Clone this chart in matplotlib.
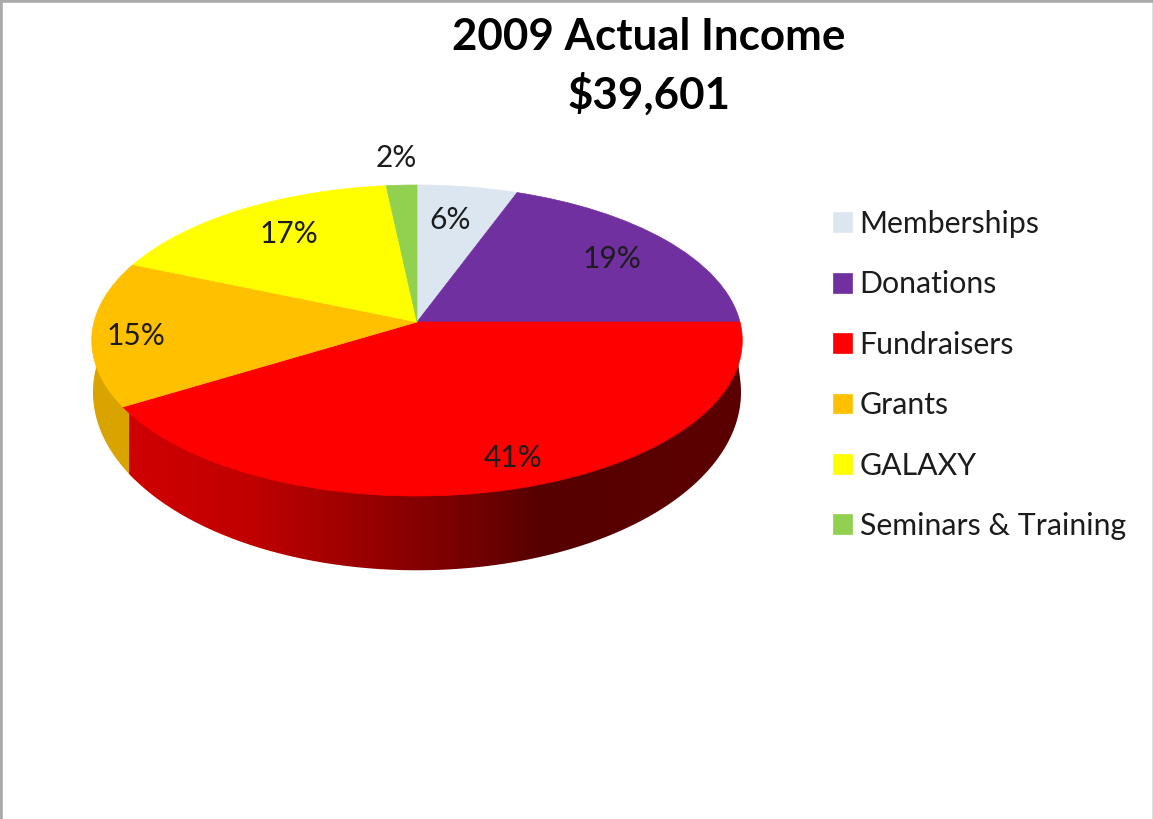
"""2009 income pie, drawn with a tilted top face and a side wall."""
import matplotlib
matplotlib.use("Agg")
import matplotlib.pyplot as plt
import numpy as np
from matplotlib.colors import LinearSegmentedColormap
from matplotlib.transforms import Transform

plt.rcParams["font.family"] = ["Lato", "DejaVu Sans"]

CATEGORIES = ["Memberships", "Donations", "Fundraisers", "Grants", "GALAXY",
              "Seminars & Training"]
# slice sizes, the printed labels are rounded
SHARES = [5.6, 19.4, 41.3, 15.1, 16.9, 1.7]
PERCENT_LABELS = ["6%", "19%", "41%", "15%", "17%", "2%"]
COLORS = ["#dce6f1", "#7030a0", "#ff0000", "#ffc000", "#ffff00", "#92d050"]
TITLE = "2009 Actual Income\n$39,601"

INK = "#1c1c1c"
# label centres in figure pixels
LABEL_XY = [(450, 220), (612, 259), (513, 458), (136, 336), (289, 234), (396, 158)]
GRANTS_WALL = "#d9a300"
RED_WALL_X = [125, 250, 360, 480, 540, 742]
RED_WALL = ["#d00000", "#c00000", "#9a0000", "#700000", "#560000", "#5c0000"]


class Tilt(Transform):
    """Unit circle -> pixel coords, nearer edge drawn larger."""
    input_dims = output_dims = 2

    def __init__(self, cx, cy, a, b, k=0.119):
        super().__init__()
        self.cx, self.cy, self.a, self.b, self.k = cx, cy, a, b, k

    def transform_non_affine(self, xy):
        xy = np.asarray(xy, dtype=float)
        w = 1 + self.k * xy[:, 1]
        return np.column_stack([self.cx + self.a * xy[:, 0] / w,
                                self.cy - self.b * xy[:, 1] / w])


def rim(tilt, start, end):
    t = np.radians(np.linspace(start, end, 80))
    return tilt.transform_non_affine(np.column_stack([np.sin(t), np.cos(t)]))


def main():
    fig = plt.figure(figsize=(11.53, 8.19), dpi=100)
    ax = fig.add_axes([0, 0, 1, 1])

    wedges, _ = ax.pie(SHARES, colors=COLORS, startangle=90, counterclock=False,
                       wedgeprops={"linewidth": 0.5})
    top = Tilt(417, 322, 323, 153.3)
    inner = Tilt(417, 322, 316, 148)  # wall runs a little under the top face
    bottom = Tilt(417, 378, 323, 176.9, k=0.08)
    for w in wedges:
        w.set_transform(top + ax.transData)
        w.set_edgecolor(w.get_facecolor())
        w.set_zorder(3)

    # side wall, only the front slices show
    edges = np.cumsum([0] + SHARES) * 3.6
    red = 2
    grants = 3
    # grants starts a bit early so no white seam shows next to the red wall
    poly = np.vstack([rim(inner, edges[grants] - 2, edges[grants + 1]),
                      rim(bottom, edges[grants + 1], edges[grants] - 2)])
    ax.fill(poly[:, 0], poly[:, 1], color=GRANTS_WALL, lw=0, zorder=1)

    poly = np.vstack([rim(inner, edges[red], edges[red + 1]),
                      rim(bottom, edges[red + 1], edges[red])])
    patch = ax.fill(poly[:, 0], poly[:, 1], color="none", lw=0, zorder=2)[0]
    span = RED_WALL_X[-1] - RED_WALL_X[0]
    stops = [(x - RED_WALL_X[0]) / span for x in RED_WALL_X]
    cmap = LinearSegmentedColormap.from_list("wall", list(zip(stops, RED_WALL)))
    img = ax.imshow(np.linspace(0, 1, 512)[None, :], cmap=cmap, aspect="auto",
                    extent=(RED_WALL_X[0], RED_WALL_X[-1], 600, 300), zorder=2)
    img.set_clip_path(patch)

    ax.set_aspect("auto")
    ax.set_xlim(0, 1153)
    ax.set_ylim(819, 0)
    ax.set_xticks([])
    ax.set_yticks([])
    ax.set_frame_on(True)
    for side, lw, color in [("left", 4, "#aaaaaa"), ("top", 4, "#aaaaaa"),
                            ("right", 2, "#dddddd"), ("bottom", 0, "white")]:
        ax.spines[side].set_linewidth(lw)
        ax.spines[side].set_color(color)

    for label, (x, y) in zip(PERCENT_LABELS, LABEL_XY):
        ax.text(x, y, label, fontsize=21.5, color=INK, ha="center",
                va="center", zorder=5)

    ax.text(649, 66, TITLE, fontsize=31.6, fontweight="bold", color="black",
            ha="center", va="center", linespacing=1.42)

    ax.legend(wedges, CATEGORIES, loc="center left", frameon=False,
              bbox_to_anchor=(806 / 1153, 1 - 375 / 819), fontsize=21.8,
              labelcolor=INK, handlelength=0.63, handleheight=0.63,
              handletextpad=0.24, labelspacing=1.07)

    fig.savefig("out.png", dpi=100)


if __name__ == "__main__":
    main()
